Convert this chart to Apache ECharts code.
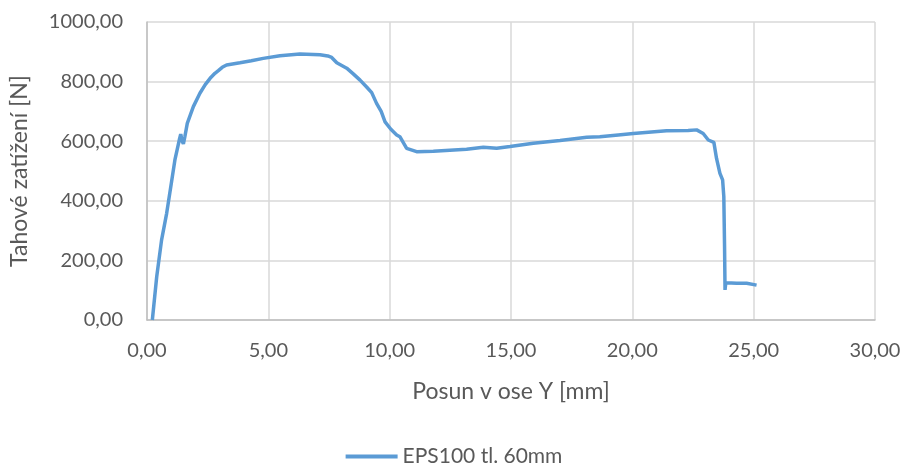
<!DOCTYPE html>
<html><head><meta charset="utf-8">
<script src="https://cdn.jsdelivr.net/npm/echarts@6/dist/echarts.min.js"></script>
<style>html,body{margin:0;padding:0;background:#fff}#c{width:908px;height:471px}</style>
</head><body><div id="c"></div>
<script>
const seriesName = 'EPS100 tl. 60mm';
const xTitle = 'Posun v ose Y [mm]';
const yTitle = 'Tahové zatížení [N]';
const posun = [0.22,0.40,0.60,0.81,0.98,1.15,1.33,1.39,1.45,1.50,1.56,1.66,1.91,2.18,2.40,2.60,2.80,2.94,3.10,3.28,3.83,4.30,4.79,5.48,6.30,7.13,7.45,7.61,7.82,8.23,8.50,8.78,9.05,9.26,9.46,9.65,9.81,10.05,10.29,10.42,10.70,11.11,11.80,12.48,13.17,13.86,14.41,14.96,15.92,17.02,18.12,18.66,19.42,20.04,21.41,22.30,22.65,22.92,23.13,23.36,23.47,23.61,23.72,23.77,23.80,23.82,23.85,23.89,24.30,24.71,25.12];
const zatizeni = [0,145,268,358,447,537,604,624,600,591,615,660,716,761,790,811,828,837,848,856,863,870,878,887,893,890,886,881,863,845,826,805,782,763,727,700,665,640,621,615,576,565,566,570,573,580,576,582,593,602,613,615,621,626,635,636,638,626,604,596,542,492,470,414,250,101,125,123,123,123,117];
const data = posun.map((x,i)=>[x,zatizeni[i]]);
const fmt = v => v.toFixed(2).replace('.', ',');
const FONT = 'Lato';
const chart = echarts.init(document.getElementById('c'));
chart.setOption({
  animation:false,
  grid:{left:147,right:33,top:22,bottom:151,containLabel:false},
  legend:{bottom:-1,left:'center',itemWidth:52,itemHeight:4,icon:'rect',itemGap:6,
    textStyle:{fontFamily:FONT,fontSize:21,color:'#595959'},data:[seriesName]},
  xAxis:{type:'value',min:0,max:30,interval:5,name:xTitle,nameLocation:'middle',nameGap:60,
    nameTextStyle:{fontFamily:FONT,fontSize:23,color:'#595959'},
    axisLine:{show:true,lineStyle:{color:'#bfbfbf',width:1.5}},axisTick:{show:false},
    axisLabel:{formatter:fmt,margin:21,fontFamily:FONT,fontSize:20,color:'#595959'},
    splitLine:{show:true,lineStyle:{color:'#d9d9d9',width:1.5}}},
  yAxis:{type:'value',min:0,max:1000,interval:200,name:yTitle,nameLocation:'middle',nameGap:116,
    nameTextStyle:{fontFamily:FONT,fontSize:23,color:'#595959'},
    axisLine:{show:true,lineStyle:{color:'#bfbfbf',width:1.5}},axisTick:{show:false},
    axisLabel:{formatter:fmt,margin:24,fontFamily:FONT,fontSize:20,color:'#595959'},
    splitLine:{show:true,lineStyle:{color:'#d9d9d9',width:1.5}}},
  series:[{name:seriesName,type:'line',data:data,showSymbol:false,symbol:'none',
    lineStyle:{color:'#5b9bd5',width:3.5},itemStyle:{color:'#5b9bd5'}}]
});
</script></body></html>
